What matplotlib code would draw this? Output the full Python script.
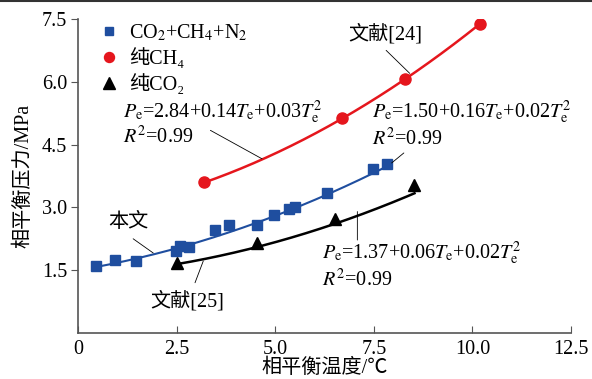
import numpy as np
import matplotlib
matplotlib.use("Agg")
import matplotlib.pyplot as plt
from matplotlib.lines import Line2D

plt.rcParams["font.family"] = ["Liberation Serif", "Noto Sans CJK SC", "DejaVu Sans"]
plt.rcParams["mathtext.fontset"] = "stix"
plt.rcParams["font.size"] = 14.5

# CO2+CH4+N2 mixture (this work)
mix_t = [0.44, 0.93, 1.46, 2.47, 2.58, 2.82, 3.47, 3.83, 4.53, 4.96, 5.35, 5.51, 6.31, 7.48, 7.84]
mix_p = [1.59, 1.75, 1.72, 1.97, 2.08, 2.05, 2.45, 2.58, 2.59, 2.81, 2.97, 3.01, 3.34, 3.92, 4.04]
# pure CH4, ref [24]
ch4_t = [3.18, 6.69, 8.29, 10.19]
ch4_p = [3.60, 5.14, 6.07, 7.39]
# pure CO2, ref [25]
co2_t = [2.50, 4.53, 6.52, 8.53]
co2_p = [1.68, 2.15, 2.73, 3.54]

# quadratic fits P = a + b*T + c*T^2
mix_fit = [1.50, 0.16, 0.02]
ch4_fit = [2.84, 0.14, 0.03]
co2_fit = [1.37, 0.06, 0.02]

x_ticks = [0, 2.5, 5.0, 7.5, 10.0, 12.5]
x_ticklabels = ["0", "2.5", "5.0", "7.5", "10.0", "12.5"]
y_ticks = [1.5, 3.0, 4.5, 6.0, 7.5]

blue = "#1f4e9f"
red = "#e5161d"


def fit_curve(t, coef):
    tt = np.linspace(min(t), max(t), 200)
    return tt, coef[0] + coef[1] * tt + coef[2] * tt ** 2


def eq_text(coef):
    return (r"$P_\mathrm{e}$=%.2f+%.2f$T_\mathrm{e}$+%.2f$T_\mathrm{e}^2$"
            % (coef[0], coef[1], coef[2]))


fig = plt.figure(figsize=(5.92, 3.79), dpi=100)
ax = fig.add_axes([0.1324, 0.1214, 0.832, 0.8286])

tt, pp = fit_curve(mix_t, mix_fit)
ax.plot(tt, pp, color=blue, lw=1.5, zorder=2)
tt, pp = fit_curve(ch4_t, ch4_fit)
ax.plot(tt, pp, color=red, lw=1.8, zorder=2)
tt, pp = fit_curve(co2_t, co2_fit)
ax.plot(tt, pp, color="black", lw=1.8, zorder=2)

ax.plot(mix_t, mix_p, "s", color=blue, ms=7, ls="none", zorder=3,
        label=r"CO$_2$+CH$_4$+N$_2$")
ax.plot(ch4_t, ch4_p, "o", color=red, ms=8, ls="none", zorder=3,
        label="纯CH₄")
ax.plot(co2_t, co2_p, "^", color="black", ms=9, ls="none", zorder=3,
        label="纯CO₂")

ax.legend(loc="upper left", bbox_to_anchor=(0.03, 1.015), frameon=False,
          handlelength=0.8, handletextpad=0.6, labelspacing=0.25,
          borderaxespad=0, markerscale=0.9)

lead = dict(arrowstyle="-", color="black", lw=0.6, shrinkA=0, shrinkB=0)

# ref [24] label
ax.text(7.80, 7.13, "文献[24]", ha="center", va="center")
ax.annotate("", xy=(8.41, 6.20), xytext=(7.81, 6.75), arrowprops=lead)

# CH4 fit
ax.text(1.14, 5.26, eq_text(ch4_fit), ha="left", va="center")
ax.text(1.14, 4.69, r"$R^2$=0.99", ha="left", va="center")
ax.annotate("", xy=(4.66, 4.16), xytext=(3.35, 4.84), arrowprops=lead)

# mixture fit
ax.text(7.44, 5.26, eq_text(mix_fit), ha="left", va="center")
ax.text(7.44, 4.62, r"$R^2$=0.99", ha="left", va="center")
ax.annotate("", xy=(7.95, 4.06), xytext=(8.26, 4.30), arrowprops=lead)

# this work label
ax.text(1.26, 2.63, "本文", ha="center", va="center")
ax.annotate("", xy=(1.90, 1.91), xytext=(1.39, 2.25), arrowprops=lead)

# ref [25] label
ax.text(2.76, 0.75, "文献[25]", ha="center", va="center")
ax.annotate("", xy=(3.17, 1.72), xytext=(2.96, 1.20), arrowprops=lead)

# CO2 fit
ax.text(6.19, 1.91, eq_text(co2_fit), ha="left", va="center")
ax.text(6.19, 1.27, r"$R^2$=0.99", ha="left", va="center")
ax.annotate("", xy=(7.08, 2.90), xytext=(7.08, 2.22), arrowprops=lead)

ax.set_xlim(0, 12.5)
ax.set_ylim(0, 7.5)
ax.set_xticks(x_ticks)
ax.set_xticklabels(x_ticklabels)
ax.set_yticks(y_ticks)
ax.tick_params(axis="x", direction="in", length=5, color="#555555", pad=5)
ax.tick_params(axis="y", direction="out", length=5, color="#555555", pad=3)
for side in ["top", "right"]:
    ax.spines[side].set_visible(False)
for side in ["left", "bottom"]:
    ax.spines[side].set_color("#555555")
    ax.spines[side].set_linewidth(1.2)

ax.set_xlabel("相平衡温度/℃", labelpad=0)
ax.set_ylabel("相平衡压力/MPa", labelpad=6)

fig.add_artist(Line2D([0, 1], [0.997, 0.997], color="#333333", lw=1.5))

fig.savefig("out.png", dpi=100)
